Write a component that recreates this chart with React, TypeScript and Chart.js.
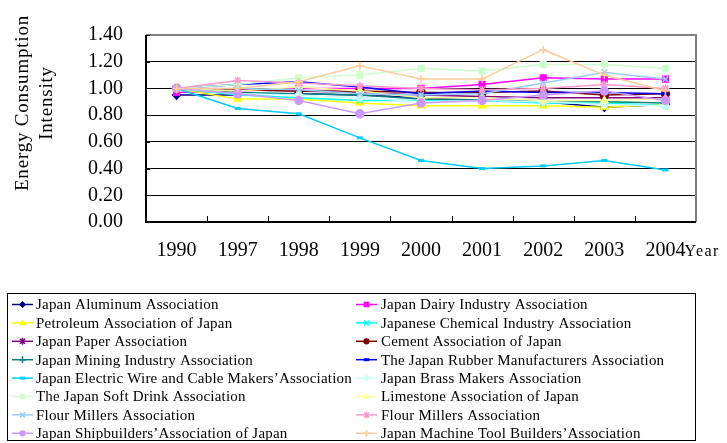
import React, { useEffect, useRef } from "react";
import { Chart, registerables } from "chart.js";

Chart.register(...registerables);

const years = ["1990", "1997", "1998", "1999", "2000", "2001", "2002", "2003", "2004"];

const seriesNames = [
  "Japan Aluminum Association",
  "Japan Dairy Industry Association",
  "Petroleum Association of Japan",
  "Japanese Chemical Industry Association",
  "Japan Paper Association",
  "Cement Association of Japan",
  "Japan Mining Industry Association",
  "The Japan Rubber Manufacturers Association",
  "Japan Electric Wire and Cable Makers\u2019Association",
  "Japan Brass Makers Association",
  "The Japan Soft Drink Association",
  "Limestone Association of Japan",
  "Flour Millers Association",
  "Flour Millers Association",
  "Japan Shipbuilders\u2019Association of Japan",
  "Japan Machine Tool Builders\u2019Association",
];

const aluminum = [0.95, 0.95, 0.96, 0.95, 0.93, 0.91, 0.90, 0.86, 0.88];
const dairy = [0.97, 0.98, 1.0, 1.0, 1.0, 1.03, 1.08, 1.07, 1.07];
const petroleum = [1.0, 0.92, 0.92, 0.89, 0.87, 0.87, 0.87, 0.86, 0.88];
const chemical = [1.0, 0.95, 0.93, 0.91, 0.91, 0.91, 0.89, 0.89, 0.87];
const paper = [1.0, 0.99, 0.98, 0.97, 0.95, 0.94, 0.93, 0.93, 0.93];
const cement = [1.0, 0.99, 0.98, 0.98, 0.97, 0.97, 0.98, 0.95, 0.96];
const mining = [1.0, 0.97, 0.96, 0.95, 0.92, 0.91, 0.91, 0.9, 0.89];
const rubber = [1.0, 1.03, 1.05, 1.01, 0.96, 0.98, 0.97, 0.97, 0.96];
const electricWire = [1.0, 0.85, 0.81, 0.63, 0.46, 0.4, 0.42, 0.46, 0.39];
const brass = [1.0, 0.96, 0.95, 0.93, 0.9, 0.91, 0.9, 0.88, 0.87];
const softDrink = [1.0, 1.03, 1.08, 1.1, 1.15, 1.13, 1.18, 1.18, 1.15];
const limestone = [1.0, 0.98, 1.01, 0.98, 0.93, 0.93, 0.91, 0.91, 0.92];
const flourMillers1 = [1.0, 1.0, 0.99, 0.96, 0.95, 0.96, 1.04, 1.12, 1.07];
const flourMillers2 = [1.0, 1.06, 1.04, 1.02, 1.0, 0.99, 1.0, 1.03, 1.0];
const shipbuilders = [1.0, 0.96, 0.91, 0.81, 0.89, 0.91, 0.95, 0.98, 0.91];
const machineTool = [1.0, 1.0, 1.05, 1.17, 1.07, 1.07, 1.29, 1.1, 0.98];

const seriesValues = [
  aluminum, dairy, petroleum, chemical, paper, cement, mining, rubber,
  electricWire, brass, softDrink, limestone, flourMillers1, flourMillers2, shipbuilders, machineTool,
];

const colors = [
  "#000080", "#FF00FF", "#FFFF00", "#00FFFF", "#800080", "#800000", "#008080", "#0000FF",
  "#00CCFF", "#CCFFFF", "#CCFFCC", "#FFFF99", "#99CCFF", "#FF99CC", "#CC99FF", "#FFCC99",
];

const markers = [
  "rectRot", "rect", "triangle", "crossRot", "star", "circle", "cross", "line",
  "line", "rectRot", "rect", "triangle", "crossRot", "star", "circle", "cross",
];

const yTicks = [0, 0.2, 0.4, 0.6, 0.8, 1.0, 1.2, 1.4];

const SERIF = "'Liberation Serif', 'DejaVu Serif', serif";

function drawMarker(ctx: CanvasRenderingContext2D, style: string, x: number, y: number, r: number, color: string) {
  ctx.save();
  ctx.fillStyle = color;
  ctx.strokeStyle = color;
  ctx.lineWidth = 1.5;
  ctx.beginPath();
  switch (style) {
    case "rectRot":
      ctx.moveTo(x, y - r);
      ctx.lineTo(x + r, y);
      ctx.lineTo(x, y + r);
      ctx.lineTo(x - r, y);
      ctx.closePath();
      ctx.fill();
      break;
    case "rect":
      ctx.rect(x - r * 0.8, y - r * 0.8, r * 1.6, r * 1.6);
      ctx.fill();
      break;
    case "triangle":
      ctx.moveTo(x, y - r);
      ctx.lineTo(x + r, y + r * 0.7);
      ctx.lineTo(x - r, y + r * 0.7);
      ctx.closePath();
      ctx.fill();
      break;
    case "crossRot":
      ctx.moveTo(x - r * 0.7, y - r * 0.7);
      ctx.lineTo(x + r * 0.7, y + r * 0.7);
      ctx.moveTo(x + r * 0.7, y - r * 0.7);
      ctx.lineTo(x - r * 0.7, y + r * 0.7);
      ctx.stroke();
      break;
    case "star":
      ctx.moveTo(x - r * 0.7, y - r * 0.7);
      ctx.lineTo(x + r * 0.7, y + r * 0.7);
      ctx.moveTo(x + r * 0.7, y - r * 0.7);
      ctx.lineTo(x - r * 0.7, y + r * 0.7);
      ctx.moveTo(x, y - r);
      ctx.lineTo(x, y + r);
      ctx.stroke();
      break;
    case "circle":
      ctx.arc(x, y, r * 0.9, 0, Math.PI * 2);
      ctx.fill();
      break;
    case "cross":
      ctx.moveTo(x - r, y);
      ctx.lineTo(x + r, y);
      ctx.moveTo(x, y - r);
      ctx.lineTo(x, y + r);
      ctx.stroke();
      break;
    case "line":
      ctx.lineWidth = 3;
      ctx.moveTo(x - r * 0.8, y);
      ctx.lineTo(x + r * 0.8, y);
      ctx.stroke();
      break;
  }
  ctx.restore();
}

const decorPlugin = {
  id: "decor",
  afterDraw(chart: any) {
    const ctx: CanvasRenderingContext2D = chart.ctx;
    const ca = chart.chartArea;
    const xs = chart.scales.x;
    const ys = chart.scales.y;
    ctx.save();

    // plot frame (top/right grey)
    ctx.strokeStyle = "#808080";
    ctx.lineWidth = 2;
    ctx.beginPath();
    ctx.moveTo(ca.left, ca.top);
    ctx.lineTo(ca.right, ca.top);
    ctx.lineTo(ca.right, ca.bottom);
    ctx.stroke();
    // axes (left/bottom black)
    ctx.strokeStyle = "#000";
    ctx.beginPath();
    ctx.moveTo(ca.left, ca.top);
    ctx.lineTo(ca.left, ca.bottom);
    ctx.lineTo(ca.right, ca.bottom);
    ctx.stroke();

    // inward tick marks
    ctx.lineWidth = 1;
    ctx.beginPath();
    yTicks.forEach((v) => {
      const y = Math.round(ys.getPixelForValue(v)) + 0.5;
      ctx.moveTo(ca.left, y);
      ctx.lineTo(ca.left + 4, y);
    });
    const step = (ca.right - ca.left) / years.length;
    for (let i = 1; i < years.length; i++) {
      const x = Math.round(ca.left + step * i) + 0.5;
      ctx.moveTo(x, ca.bottom);
      ctx.lineTo(x, ca.bottom - 6);
    }
    ctx.stroke();

    // y axis title
    ctx.fillStyle = "#000";
    ctx.font = "19px " + SERIF;
    ctx.textAlign = "center";
    ctx.textBaseline = "middle";
    (ctx as any).letterSpacing = "0.8px";
    ctx.save();
    ctx.translate(23, 103);
    ctx.rotate(-Math.PI / 2);
    ctx.fillText("Energy Consumption", 0, 0);
    ctx.restore();
    ctx.save();
    ctx.translate(47, 103);
    ctx.rotate(-Math.PI / 2);
    ctx.fillText("Intensity", 0, 0);
    ctx.restore();

    // x axis title "Year"
    (ctx as any).letterSpacing = "1.5px";
    ctx.font = "16px " + SERIF;
    ctx.textAlign = "left";
    ctx.textBaseline = "alphabetic";
    const lastX = xs.getPixelForValue(years.length - 1);
    ctx.fillText("Year", lastX + 19, 255.5);

    // legend
    (ctx as any).letterSpacing = "0.2px";
    ctx.strokeStyle = "#000";
    ctx.lineWidth = 1;
    ctx.strokeRect(7.5, 293.5, 688, 147);
    ctx.font = "15px " + SERIF;
    ctx.textBaseline = "middle";
    const rowH = 18.4;
    seriesNames.forEach((name, i) => {
      const col = i % 2;
      const row = Math.floor(i / 2);
      const y = 304.5 + row * rowH;
      const x0 = col === 0 ? 12 : 356;
      const x1 = col === 0 ? 33 : 377;
      ctx.strokeStyle = colors[i];
      ctx.lineWidth = 1.5;
      ctx.beginPath();
      ctx.moveTo(x0, y);
      ctx.lineTo(x1, y);
      ctx.stroke();
      drawMarker(ctx, markers[i], (x0 + x1) / 2, y, 3.5, colors[i]);
      ctx.fillStyle = "#000";
      ctx.fillText(name, col === 0 ? 36 : 381, y + 1);
    });

    ctx.restore();
  },
};

export default function App() {
  const ref = useRef<HTMLCanvasElement | null>(null);
  useEffect(() => {
    if (!ref.current) return;
    const datasets = seriesValues.map((vals, i) => ({
      label: seriesNames[i],
      data: vals,
      borderColor: colors[i],
      backgroundColor: colors[i],
      pointBackgroundColor: colors[i],
      pointBorderColor: colors[i],
      pointStyle: markers[i] as any,
      pointRadius: markers[i] === "line" ? 3 : 4,
      pointBorderWidth: markers[i] === "line" ? 3 : 1.5,
      borderWidth: 1.5,
      tension: 0,
      fill: false,
      order: 16 - i,
    }));
    const chart = new Chart(ref.current, {
      type: "line",
      data: { labels: years, datasets },
      options: {
        animation: false,
        responsive: false,
        layout: { padding: { top: 15, right: 31, left: 0, bottom: 0 } },
        plugins: { legend: { display: false }, tooltip: { enabled: false } },
        scales: {
          x: {
            offset: true,
            grid: { display: false, drawTicks: false },
            border: { display: false },
            ticks: {
              color: "#000",
              font: { family: SERIF, size: 20 },
              padding: 17,
              maxRotation: 0,
              autoSkip: false,
            },
            afterFit: (s: any) => {
              s.height = 221;
            },
          },
          y: {
            min: 0,
            max: 1.4,
            grid: { color: "#000", lineWidth: 1, drawTicks: false },
            border: { display: false },
            ticks: {
              stepSize: 0.2,
              autoSkip: false,
              color: "#000",
              font: { family: SERIF, size: 20 },
              padding: 23,
              callback: (v: any) => Number(v).toFixed(2),
            },
            afterFit: (s: any) => {
              s.width = 146;
            },
          },
        },
      },
      plugins: [decorPlugin],
    });
    return () => chart.destroy();
  }, []);
  return (
    <div style={{ position: "fixed", left: 0, top: 0, width: 727, height: 443, background: "#fff" }}>
      <canvas ref={ref} width={727} height={443} />
    </div>
  );
}
